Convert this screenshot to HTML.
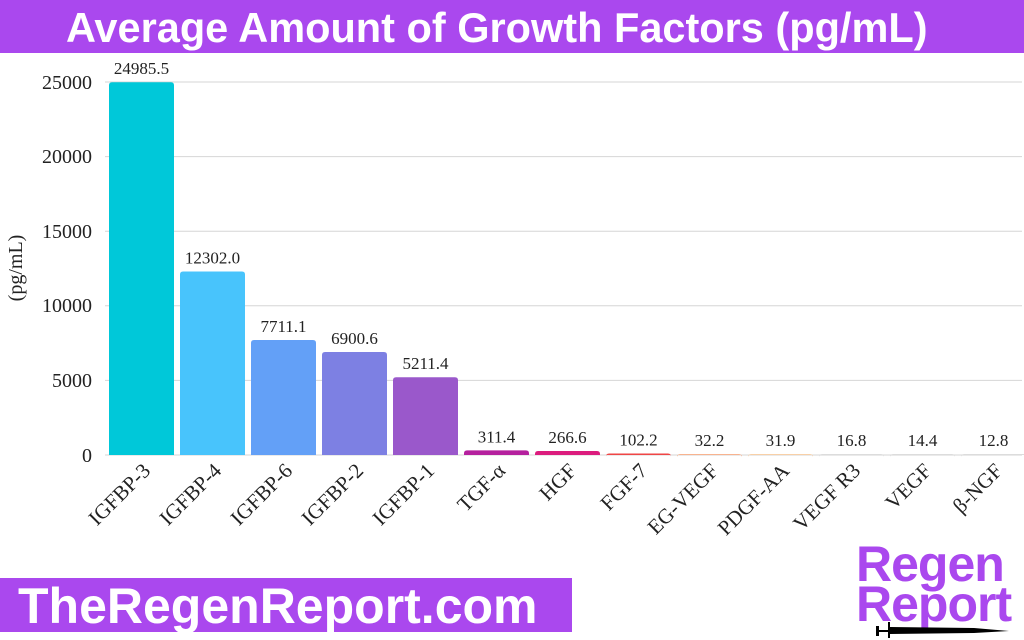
<!DOCTYPE html>
<html><head><style>
body{margin:0;width:1024px;height:640px;background:#fff;overflow:hidden;position:relative;font-family:"Liberation Serif",serif}
.t{position:absolute;left:0;top:0;width:1024px;height:53px;background:#aa48ee;color:#fff;font:bold 41.5px "Liberation Sans",sans-serif;line-height:55px;white-space:nowrap;padding-left:66px;box-sizing:border-box}
.b{position:absolute;left:0;top:578px;width:572px;height:54px;background:#aa48ee;color:#fff;font:bold 50px "Liberation Sans",sans-serif;line-height:56px;padding-left:18px;box-sizing:border-box;white-space:nowrap}
.l{position:absolute;left:856px;top:544px;color:#aa48ee;font:bold 50px/40px "Liberation Sans",sans-serif;letter-spacing:-1px}
</style></head><body>
<div class="t">Average Amount of Growth Factors (pg/mL)</div>
<svg width="1024" height="640" style="position:absolute;left:0;top:0" font-family="Liberation Serif, serif">
<g stroke="#d6d6d6" stroke-width="1">
<line x1="105" x2="1022" y1="82" y2="82"/><line x1="105" x2="1022" y1="156.6" y2="156.6"/><line x1="105" x2="1022" y1="231.2" y2="231.2"/><line x1="105" x2="1022" y1="305.8" y2="305.8"/><line x1="105" x2="1022" y1="380.4" y2="380.4"/><line x1="105" x2="1022" y1="455" y2="455"/>
</g>
<g font-size="20" fill="#222" text-anchor="end">
<text x="92" y="89">25000</text><text x="92" y="163">20000</text><text x="92" y="238">15000</text><text x="92" y="312">10000</text><text x="92" y="387">5000</text><text x="92" y="462">0</text>
</g>
<text transform="translate(22,268) rotate(-90)" font-size="20" text-anchor="middle" fill="#222">(pg/mL)</text>
<g id="bars"></g>
</svg>
<div class="b">TheRegenReport.com</div>
<div class="l">Regen<br>Report</div>
<svg width="160" height="20" style="position:absolute;left:874px;top:620px"><rect x="2" y="6" width="3" height="10" fill="#000"/><rect x="2" y="10" width="12" height="2" fill="#000"/><rect x="14" y="2" width="2" height="16" fill="#000"/><polygon points="16,7 100,8 135,11 100,13 16,14" fill="#000"/></svg>
<script>
var d=[["IGFBP-3",24985.5,"#00c8d9"],["IGFBP-4",12302.0,"#48c4fc"],["IGFBP-6",7711.1,"#63a0f7"],["IGFBP-2",6900.6,"#7d80e3"],["IGFBP-1",5211.4,"#9a58cb"],["TGF-α",311.4,"#b5209e"],["HGF",266.6,"#dc1c7e"],["FGF-7",102.2,"#ef4646"],["EG-VEGF",32.2,"#f59a6a"],["PDGF-AA",31.9,"#f5c08a"],["VEGF R3",16.8,"#d0d0d0"],["VEGF",14.4,"#d0d0d0"],["β-NGF",12.8,"#d0d0d0"]];
var s="",k=373/25000;
d.forEach(function(e,i){var c=141.5+71*i,h=Math.max(e[1]*k,0.8),y=455-h;
s+='<path d="M'+(c-32.5)+' 455 V'+(y+3)+' q0 -3 3 -3 H'+(c+29.5)+' q3 0 3 3 V455Z" fill="'+e[2]+'"/>';
s+='<text x="'+c+'" y="'+(y-8)+'" font-size="17" text-anchor="middle" fill="#222">'+e[1].toFixed(1)+'</text>';
s+='<text transform="translate('+(c+10)+',472) rotate(-45)" font-size="21" text-anchor="end" fill="#222">'+e[0]+'</text>';});
document.getElementById("bars").innerHTML=s;
</script>
</body></html>
